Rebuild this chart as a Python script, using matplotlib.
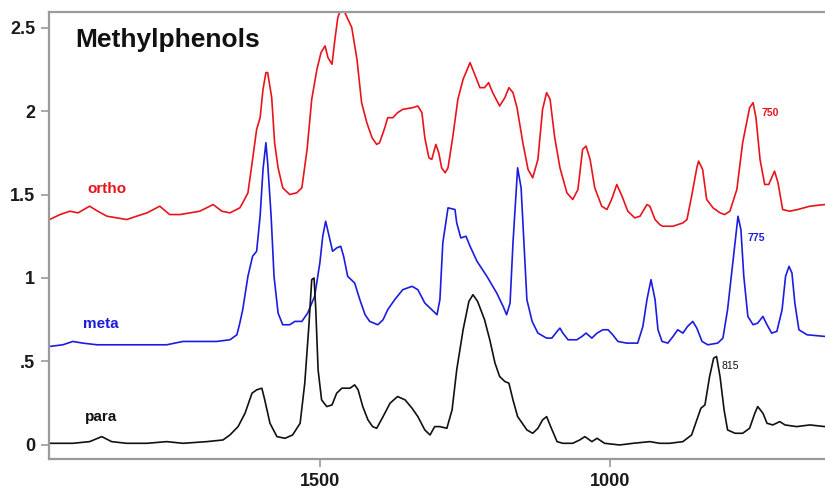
import matplotlib
matplotlib.use("Agg")
import matplotlib.pyplot as plt

plt.rcParams['font.family'] = ['Liberation Sans', 'DejaVu Sans']

# IR spectra of the three methylphenols (wavenumber in cm-1, absorbance)
ortho_wn = [1966, 1948, 1931, 1917, 1897, 1883, 1867, 1850, 1833, 1816, 1798, 1776, 1759,
            1741, 1724, 1707, 1684, 1669, 1655, 1638, 1633, 1624, 1616, 1609, 1603, 1598,
            1593, 1590, 1583, 1578, 1572, 1564, 1552, 1540, 1531, 1522, 1514, 1505, 1498,
            1491, 1486, 1479, 1474, 1469, 1462, 1453, 1445, 1436, 1428, 1419, 1410, 1402,
            1397, 1388, 1383, 1374, 1366, 1357, 1340, 1331, 1324, 1319, 1312, 1307, 1300,
            1295, 1290, 1284, 1279, 1271, 1262, 1253, 1241, 1233, 1224, 1216, 1209, 1202,
            1190, 1181, 1174, 1167, 1160, 1150, 1141, 1133, 1124, 1116, 1109, 1103, 1095,
            1086, 1074, 1064, 1055, 1047, 1041, 1034, 1026, 1014, 1005, 997, 988, 979, 969,
            957, 948, 936, 931, 922, 914, 909, 891, 874, 867, 859, 850, 847, 840, 833, 822,
            810, 802, 793, 781, 771, 759, 753, 748, 741, 733, 726, 716, 710, 702, 690, 676,
            655, 629]
ortho_abs = [1.35, 1.38, 1.40, 1.39, 1.43, 1.40, 1.37, 1.36, 1.35, 1.37, 1.39, 1.43, 1.38,
             1.38, 1.39, 1.40, 1.44, 1.40, 1.39, 1.42, 1.45, 1.51, 1.71, 1.89, 1.96, 2.13,
             2.23, 2.23, 2.08, 1.81, 1.66, 1.54, 1.50, 1.51, 1.54, 1.77, 2.07, 2.25, 2.35,
             2.39, 2.32, 2.28, 2.43, 2.56, 2.63, 2.56, 2.50, 2.31, 2.05, 1.93, 1.84, 1.80,
             1.81, 1.90, 1.96, 1.96, 1.99, 2.01, 2.02, 2.03, 1.99, 1.84, 1.72, 1.71, 1.80,
             1.75, 1.66, 1.63, 1.66, 1.84, 2.07, 2.19, 2.29, 2.22, 2.14, 2.14, 2.17, 2.11,
             2.03, 2.08, 2.14, 2.11, 2.02, 1.81, 1.65, 1.60, 1.71, 2.01, 2.11, 2.07, 1.84,
             1.66, 1.51, 1.47, 1.53, 1.77, 1.79, 1.71, 1.54, 1.43, 1.41, 1.47, 1.56, 1.49,
             1.40, 1.36, 1.37, 1.44, 1.43, 1.35, 1.32, 1.31, 1.31, 1.33, 1.35, 1.49, 1.66,
             1.70, 1.65, 1.47, 1.42, 1.39, 1.38, 1.40, 1.53, 1.81, 2.02, 2.05, 1.96, 1.71,
             1.56, 1.56, 1.64, 1.57, 1.41, 1.40, 1.41, 1.43, 1.44]

meta_wn = [1966, 1943, 1926, 1909, 1884, 1840, 1810, 1764, 1736, 1707, 1678, 1655, 1643,
           1638, 1633, 1624, 1616, 1609, 1603, 1598, 1593, 1590, 1584, 1579, 1572, 1564,
           1552, 1543, 1531, 1521, 1509, 1500, 1495, 1490, 1484, 1478, 1471, 1464, 1459,
           1452, 1440, 1431, 1422, 1414, 1400, 1391, 1383, 1371, 1357, 1341, 1331, 1319,
           1307, 1298, 1293, 1288, 1279, 1267, 1264, 1257, 1248, 1241, 1229, 1212, 1195,
           1184, 1178, 1172, 1167, 1160, 1159, 1153, 1148, 1143, 1134, 1124, 1109, 1100,
           1091, 1086, 1081, 1072, 1057, 1048, 1041, 1031, 1022, 1012, 1003, 995, 986, 971,
           952, 943, 936, 929, 922, 917, 910, 900, 891, 883, 874, 866, 857, 850, 841, 831,
           814, 805, 797, 788, 781, 779, 774, 769, 762, 753, 745, 736, 729, 721, 712, 703,
           697, 691, 686, 681, 674, 660, 629]
meta_abs = [0.59, 0.60, 0.62, 0.61, 0.60, 0.60, 0.60, 0.60, 0.62, 0.62, 0.62, 0.63, 0.66,
            0.73, 0.81, 1.01, 1.13, 1.16, 1.37, 1.65, 1.81, 1.69, 1.37, 1.01, 0.79, 0.72,
            0.72, 0.74, 0.74, 0.79, 0.89, 1.09, 1.25, 1.34, 1.25, 1.16, 1.18, 1.19, 1.13,
            1.01, 0.97, 0.87, 0.78, 0.74, 0.72, 0.75, 0.81, 0.87, 0.93, 0.95, 0.93, 0.85,
            0.81, 0.78, 0.87, 1.21, 1.42, 1.41, 1.33, 1.24, 1.25, 1.19, 1.10, 1.01, 0.91,
            0.83, 0.78, 0.85, 1.21, 1.61, 1.66, 1.54, 1.21, 0.87, 0.74, 0.67, 0.64, 0.64,
            0.68, 0.70, 0.67, 0.63, 0.63, 0.65, 0.67, 0.64, 0.67, 0.69, 0.69, 0.66, 0.62,
            0.61, 0.61, 0.71, 0.87, 0.99, 0.87, 0.69, 0.62, 0.61, 0.65, 0.69, 0.67, 0.71,
            0.74, 0.70, 0.62, 0.60, 0.61, 0.64, 0.81, 1.09, 1.31, 1.37, 1.29, 1.01, 0.77,
            0.72, 0.73, 0.77, 0.72, 0.67, 0.68, 0.81, 1.01, 1.07, 1.03, 0.85, 0.69, 0.66,
            0.65]

para_wn = [1966, 1926, 1897, 1876, 1859, 1833, 1798, 1764, 1736, 1695, 1667, 1655, 1641,
           1629, 1617, 1609, 1600, 1595, 1586, 1574, 1560, 1547, 1534, 1526, 1519, 1514,
           1510, 1507, 1503, 1497, 1488, 1479, 1471, 1462, 1448, 1440, 1434, 1426, 1417,
           1409, 1402, 1391, 1379, 1366, 1353, 1341, 1331, 1319, 1310, 1302, 1293, 1281,
           1272, 1264, 1253, 1243, 1236, 1228, 1216, 1207, 1198, 1190, 1181, 1174, 1167,
           1159, 1143, 1133, 1124, 1116, 1109, 1102, 1091, 1081, 1064, 1052, 1043, 1031,
           1022, 1009, 983, 960, 931, 914, 897, 874, 859, 850, 843, 836, 828, 821, 816, 810,
           803, 797, 784, 771, 759, 750, 745, 736, 729, 719, 707, 698, 678, 655, 629]
para_abs = [0.01, 0.01, 0.02, 0.05, 0.02, 0.01, 0.01, 0.02, 0.01, 0.02, 0.03, 0.06, 0.11,
            0.19, 0.31, 0.33, 0.34, 0.27, 0.13, 0.05, 0.04, 0.06, 0.13, 0.37, 0.71, 0.99,
            1.00, 0.81, 0.45, 0.27, 0.23, 0.24, 0.31, 0.34, 0.34, 0.36, 0.33, 0.23, 0.15,
            0.11, 0.10, 0.17, 0.25, 0.29, 0.27, 0.22, 0.17, 0.09, 0.06, 0.11, 0.11, 0.10,
            0.21, 0.45, 0.69, 0.86, 0.90, 0.86, 0.75, 0.63, 0.49, 0.41, 0.38, 0.37, 0.27,
            0.17, 0.09, 0.07, 0.10, 0.15, 0.17, 0.11, 0.02, 0.01, 0.01, 0.03, 0.05, 0.02,
            0.04, 0.01, 0.0, 0.01, 0.02, 0.01, 0.01, 0.02, 0.06, 0.15, 0.22, 0.24, 0.41,
            0.52, 0.53, 0.41, 0.21, 0.09, 0.07, 0.07, 0.10, 0.19, 0.23, 0.19, 0.13, 0.12,
            0.14, 0.12, 0.11, 0.12, 0.11]

yticks = [0, 0.5, 1, 1.5, 2, 2.5]
ytick_labels = ['0', '.5', '1', '1.5', '2', '2.5']
xticks = [1500, 1000]

fig = plt.figure(figsize=(8.25, 4.91), dpi=100)
ax = fig.add_axes([49 / 825, 32 / 491, 776 / 825, 447 / 491])

line_kw = dict(lw=1.2, solid_joinstyle='round', solid_capstyle='round')
ax.plot(ortho_wn, ortho_abs, color='#e8141c', **line_kw)
ax.plot(meta_wn, meta_abs, color='#1c1ce0', **line_kw)
ax.plot(para_wn, para_abs, color='#111111', **line_kw)

ax.set_xlim(1967, 629)
ax.set_ylim(-0.084, 2.593)

ax.set_yticks(yticks)
ax.set_yticklabels(ytick_labels)
ax.set_xticks(xticks)

for side in ['left', 'top', 'bottom']:
    ax.spines[side].set_color('#9a9a9a')
    ax.spines[side].set_linewidth(1.6)
ax.spines['right'].set_visible(False)
ax.tick_params(axis='both', direction='out', length=6, width=1.2, color='#9a9a9a',
               labelsize=13, pad=4, labelcolor='#1a1a1a')
for lab in ax.get_xticklabels() + ax.get_yticklabels():
    lab.set_fontweight('bold')

ax.text(0.034, 0.937, 'Methylphenols', transform=ax.transAxes, fontsize=19,
        fontweight='bold', va='center', ha='left', color='#111111')

ax.text(1900, 1.53, 'ortho', color='#e8141c', fontsize=11, fontweight='bold', va='center')
ax.text(1909, 0.725, 'meta', color='#1c1ce0', fontsize=11, fontweight='bold', va='center')
ax.text(1905, 0.17, 'para', color='#111111', fontsize=11, fontweight='bold', va='center')

ax.text(738, 1.99, '750', color='#e8141c', fontsize=7.5, fontweight='bold', va='center')
ax.text(762, 1.24, '775', color='#1c1ce0', fontsize=7.5, fontweight='bold', va='center')
ax.text(807, 0.47, '815', color='#111111', fontsize=7.5, va='center')

fig.savefig('out.png', dpi=100)
